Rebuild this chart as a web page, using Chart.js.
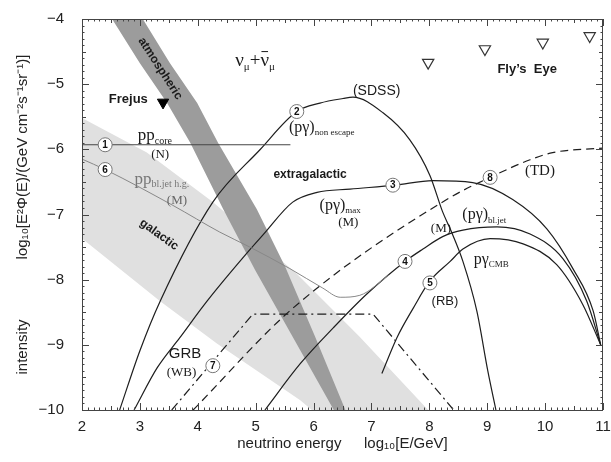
<!DOCTYPE html>
<html>
<head>
<meta charset="utf-8">
<script src="https://cdn.jsdelivr.net/npm/chart.js@4.4.1/dist/chart.umd.min.js"></script>
<style>
    html, body { margin: 0; padding: 0; background: #fff; }
    #grafico { display: block; }
</style>
</head>
<body>
<canvas id="grafico" width="611" height="462"></canvas>
<script>
// Datos (x = log10 E/GeV, y = log10 intensidad)

// banda galactica: borde superior e inferior
const galSupX = [2.0, 3.12, 4.26, 5.71, 6.80, 7.98];
const galSupY = [-5.52, -6.05, -6.81, -7.91, -8.88, -10.0];
const galInfX = [2.0, 3.35, 4.33, 5.77, 5.97];
const galInfY = [-7.37, -8.33, -8.98, -9.85, -10.0];

// banda atmosferica: borde izquierdo y derecho
const atmIzqX = [2.52, 3.00, 3.47, 3.87, 4.44, 4.99, 5.68, 6.35];
const atmIzqY = [-4.0, -4.68, -5.29, -5.90, -6.92, -7.85, -8.94, -10.0];
const atmDerX = [3.05, 3.52, 3.99, 4.35, 5.02, 5.51, 6.02, 6.55];
const atmDerY = [-4.0, -4.68, -5.29, -5.90, -6.92, -7.80, -8.86, -10.0];

// 1: pp core (N)
const ppCoreX = [2.0, 5.6];
const ppCoreY = [-5.93, -5.93];

// 6: pp jet h.g. (M)
const ppJetX = [2.0, 2.40, 3.57, 4.38, 4.90, 5.59, 6.16, 6.46, 6.80, 7.30];
const ppJetY = [-6.15, -6.31, -6.86, -7.27, -7.50, -7.83, -8.13, -8.27, -8.24, -7.93];

// 2: (p gamma) non escape (SDSS)
const noEscX = [2.65, 3.0, 3.35, 4.26, 5.07, 5.71, 6.11, 6.51, 6.68, 7.20, 7.66, 8.01, 8.23, 8.36, 8.58, 8.82, 9.01, 9.15];
const noEscY = [-10.0, -9.09, -8.33, -6.81, -6.01, -5.42, -5.29, -5.22, -5.20, -5.44, -5.85, -6.40, -6.96, -7.22, -7.72, -8.48, -9.40, -10.0];

// 3: (p gamma) max (M)
const maxX = [2.90, 3.30, 3.69, 4.16, 4.90, 5.13, 5.64, 6.06, 6.63, 7.41, 8.06, 8.75, 9.44, 10.03, 10.48, 10.83, 10.96];
const maxY = [-10.0, -9.35, -8.89, -8.33, -7.54, -7.31, -6.81, -6.66, -6.61, -6.55, -6.48, -6.51, -6.77, -7.22, -7.83, -8.48, -9.0];

// 4: (p gamma) bl.jet (M)
const blJetX = [5.16, 5.77, 6.34, 6.92, 7.58, 7.89, 8.23, 8.58, 9.17, 9.74, 10.31, 10.72, 10.96];
const blJetY = [-10.0, -9.29, -8.74, -8.22, -7.72, -7.53, -7.34, -7.24, -7.19, -7.30, -7.68, -8.33, -9.0];

// 5: p gamma CMB (RB)
const cmbX = [7.18, 7.44, 7.72, 8.01, 8.36, 8.58, 9.05, 9.62, 10.20, 10.65, 10.96];
const cmbY = [-9.44, -8.89, -8.44, -8.02, -7.72, -7.53, -7.37, -7.45, -7.77, -8.38, -9.0];

// 8: TD (discontinua)
const tdX = [3.92, 5.64, 8.30, 9.05, 9.74, 10.13, 11.0];
const tdY = [-10.0, -8.44, -6.77, -6.43, -6.16, -6.05, -5.98];

// 7: GRB (WB) (punto y raya)
const grbX = [3.55, 4.95, 7.03, 8.42];
const grbY = [-10.0, -8.53, -8.53, -10.0];

// limites experimentales
const frejusX = [3.40];
const frejusY = [-5.28];
const flyEyeX = [7.98, 8.96, 9.96, 10.77];
const flyEyeY = [-4.67, -4.46, -4.36, -4.26];

// marcas del eje
const ejeX = [2, 11];
const ejeY = [-10, -4];

const SANS = '"Liberation Sans", Arial, sans-serif';
const SERIF = '"Liberation Serif", "Times New Roman", serif';

// etiquetas de texto
const etiquetas = [
    { x: 4.99, y: -4.64, partes: [['ν'], ['μ', 'sub'], ['+'], ['ν', 'barra'], ['μ', 'sub']], tam: 19, familia: SERIF },
    { x: 3.35, y: -4.76, partes: [['atmospheric']], tam: 12, peso: 'bold', familia: SANS, giro: 57 },
    { x: 2.80, y: -5.23, partes: [['Frejus']], tam: 13, peso: 'bold', familia: SANS },
    { x: 3.26, y: -5.79, partes: [['pp'], ['core', 'sub']], tam: 17, familia: SERIF },
    { x: 3.35, y: -6.08, partes: [['(N)']], tam: 13, familia: SERIF },
    { x: 3.38, y: -6.46, partes: [['pp'], ['bl.jet h.g.', 'sub']], tam: 17, familia: SERIF, color: '#777' },
    { x: 3.64, y: -6.78, partes: [['(M)']], tam: 13, familia: SERIF, color: '#666' },
    { x: 3.33, y: -7.31, partes: [['galactic']], tam: 12, peso: 'bold', familia: SANS, giro: 36 },
    { x: 5.94, y: -6.39, partes: [['extragalactic']], tam: 12, peso: 'bold', familia: SANS },
    { x: 6.14, y: -5.67, partes: [['(pγ)'], ['non escape', 'sub']], tam: 16, familia: SERIF },
    { x: 7.09, y: -5.11, partes: [['(SDSS)']], tam: 14, familia: SANS },
    { x: 6.46, y: -6.86, partes: [['(pγ)'], ['max', 'sub']], tam: 16, familia: SERIF },
    { x: 6.60, y: -7.12, partes: [['(M)']], tam: 13, familia: SERIF },
    { x: 9.91, y: -6.33, partes: [['(TD)']], tam: 15, familia: SERIF },
    { x: 8.95, y: -7.01, partes: [['(pγ)'], ['bl.jet', 'sub']], tam: 16, familia: SERIF },
    { x: 8.20, y: -7.22, partes: [['(M)']], tam: 13, familia: SERIF },
    { x: 9.07, y: -7.69, partes: [['pγ'], ['CMB', 'sub']], tam: 16, familia: SERIF },
    { x: 8.27, y: -8.33, partes: [['(RB)']], tam: 13, familia: SANS },
    { x: 3.78, y: -9.14, partes: [['GRB']], tam: 15, familia: SANS },
    { x: 3.72, y: -9.43, partes: [['(WB)']], tam: 13, familia: SERIF },
    { x: 9.69, y: -4.78, partes: [['Fly\u2019s  Eye']], tam: 13, peso: 'bold', familia: SANS }
];

// numeros en circulo sobre las curvas
const circulos = [
    { n: '1', x: 2.40, y: -5.93 }, { n: '6', x: 2.40, y: -6.31 },
    { n: '2', x: 5.71, y: -5.42 }, { n: '3', x: 7.37, y: -6.55 },
    { n: '4', x: 7.58, y: -7.72 }, { n: '5', x: 8.01, y: -8.05 },
    { n: '8', x: 9.05, y: -6.43 }, { n: '7', x: 4.26, y: -9.32 }
];

const juntar = (xs, ys) => xs.map((x, i) => ({ x, y: ys[i] }));

// poligono cerrado: un borde de ida y el otro de vuelta
const poligono = (xa, ya, xb, yb) => juntar(xa, ya).concat(juntar(xb, yb).reverse());

function curva(xs, ys, extra) {
    return Object.assign({
        data: juntar(xs, ys),
        showLine: true,
        pointRadius: 0,
        borderColor: '#1e1e1e',
        borderWidth: 1.2,
        cubicInterpolationMode: 'monotone',
        fill: false,
        order: 1
    }, extra || {});
}

function textoRico(ctx, px, py, e) {
    const peso = e.peso || 'normal';
    const fPrin = `${peso} ${e.tam}px ${e.familia}`;
    const fSub = `${peso} ${Math.round(e.tam * 0.58)}px ${e.familia}`;
    let ancho = 0;
    e.partes.forEach(([t, tipo]) => {
        ctx.font = tipo === 'sub' ? fSub : fPrin;
        ancho += ctx.measureText(t).width;
    });
    ctx.save();
    ctx.translate(px, py);
    if (e.giro) ctx.rotate(e.giro * Math.PI / 180);
    ctx.fillStyle = e.color || '#1a1a1a';
    ctx.strokeStyle = e.color || '#1a1a1a';
    ctx.textAlign = 'left';
    ctx.textBaseline = 'middle';
    let cx = -ancho / 2;
    e.partes.forEach(([t, tipo]) => {
        ctx.font = tipo === 'sub' ? fSub : fPrin;
        const w = ctx.measureText(t).width;
        ctx.fillText(t, cx, tipo === 'sub' ? e.tam * 0.32 : 0);
        if (tipo === 'barra') {
            ctx.lineWidth = 1;
            ctx.beginPath();
            ctx.moveTo(cx + 1, -e.tam * 0.48);
            ctx.lineTo(cx + w - 1, -e.tam * 0.48);
            ctx.stroke();
        }
        cx += w;
    });
    ctx.restore();
}

// marco con marcas hacia dentro, en los cuatro lados
const marcoEjes = {
    id: 'marcoEjes',
    afterDatasetsDraw(chart) {
        const { ctx, chartArea: a, scales: { x, y } } = chart;
        ctx.save();
        ctx.strokeStyle = '#444';
        ctx.lineWidth = 1;
        ctx.strokeRect(a.left + 0.5, a.top + 0.5, a.right - a.left - 1, a.bottom - a.top);
        ctx.beginPath();
        const pasosX = Math.round((x.max - x.min) * 10);
        for (let i = 0; i <= pasosX; i++) {
            const px = Math.round(x.getPixelForValue(x.min + i / 10)) + 0.5;
            const largo = i % 10 === 0 ? 7 : (i % 5 === 0 ? 4 : 2.5);
            ctx.moveTo(px, a.bottom); ctx.lineTo(px, a.bottom - largo);
            ctx.moveTo(px, a.top); ctx.lineTo(px, a.top + largo);
        }
        const pasosY = Math.round((y.max - y.min) * 10);
        for (let i = 0; i <= pasosY; i++) {
            const py = Math.round(y.getPixelForValue(y.min + i / 10)) + 0.5;
            const largo = i % 10 === 0 ? 7 : (i % 5 === 0 ? 4 : 2.5);
            ctx.moveTo(a.left, py); ctx.lineTo(a.left + largo, py);
            ctx.moveTo(a.right, py); ctx.lineTo(a.right - largo, py);
        }
        ctx.stroke();
        ctx.restore();
    },
    afterDraw(chart) {
        const { ctx, scales: { x, y } } = chart;
        etiquetas.forEach(e => textoRico(ctx, x.getPixelForValue(e.x), y.getPixelForValue(e.y), e));
        circulos.forEach(c => {
            const px = x.getPixelForValue(c.x);
            const py = y.getPixelForValue(c.y);
            ctx.save();
            ctx.beginPath();
            ctx.arc(px, py, 7, 0, Math.PI * 2);
            ctx.fillStyle = '#fff';
            ctx.fill();
            ctx.strokeStyle = '#777';
            ctx.lineWidth = 1;
            ctx.stroke();
            ctx.fillStyle = '#111';
            ctx.font = `bold 10px ${SANS}`;
            ctx.textAlign = 'center';
            ctx.textBaseline = 'middle';
            ctx.fillText(c.n, px, py + 0.5);
            ctx.restore();
        });
    }
};

const ctx = document.getElementById('grafico').getContext('2d');
new Chart(ctx, {
    type: 'scatter',
    data: {
        datasets: [
            { data: poligono(galSupX, galSupY, galInfX, galInfY), showLine: true, pointRadius: 0,
              borderWidth: 0, backgroundColor: '#e0e0e0', fill: 'shape', tension: 0, order: 10 },
            { data: poligono(atmIzqX, atmIzqY, atmDerX, atmDerY), showLine: true, pointRadius: 0,
              borderWidth: 0, backgroundColor: '#9c9c9c', fill: 'shape', tension: 0, order: 9 },
            curva(ppCoreX, ppCoreY, { borderColor: '#444', cubicInterpolationMode: 'default', tension: 0 }),
            curva(ppJetX, ppJetY, { borderColor: '#888', borderWidth: 1 }),
            curva(noEscX, noEscY),
            curva(maxX, maxY),
            curva(blJetX, blJetY),
            curva(cmbX, cmbY),
            curva(tdX, tdY, { borderDash: [8, 5] }),
            curva(grbX, grbY, { borderDash: [9, 4, 2, 4], cubicInterpolationMode: 'default', tension: 0 }),
            { data: juntar(frejusX, frejusY), pointStyle: 'triangle', rotation: 180, pointRadius: 6.5,
              backgroundColor: '#000', borderColor: '#000', borderWidth: 1, order: 0 },
            { data: juntar(flyEyeX, flyEyeY), pointStyle: 'triangle', rotation: 180, pointRadius: 6.5,
              backgroundColor: '#fff', borderColor: '#333', borderWidth: 1.2, order: 0 }
        ]
    },
    options: {
        responsive: false,
        animation: false,
        devicePixelRatio: 1,
        events: [],
        layout: { padding: { top: 15, right: 8, left: 0, bottom: 0 } },
        plugins: { legend: { display: false }, tooltip: { enabled: false } },
        scales: {
            x: {
                type: 'linear', min: ejeX[0], max: ejeX[1],
                grid: { display: false }, border: { display: false },
                ticks: { stepSize: 1, padding: 0, color: '#222', font: { size: 15, family: SANS } },
                title: { display: true, text: 'neutrino energy\u2003\u2002log\u2081\u2080[E/GeV]', color: '#222',
                         font: { size: 15, family: SANS }, padding: { top: 0, bottom: 9 } },
                afterFit(s) { s.height = 52; }
            },
            y: {
                type: 'linear', min: ejeY[0], max: ejeY[1],
                grid: { display: false }, border: { display: false },
                ticks: { stepSize: 1, padding: 10, color: '#222', font: { size: 15, family: SANS },
                         callback: v => (v < 0 ? '\u2212' + Math.abs(v) : String(v)) },
                title: { display: true,
                         text: 'intensity\u2003\u2003\u2003\u2003log\u2081\u2080[E\u00b2\u03a6(E)/(GeV cm\u207b\u00b2s\u207b\u00b9sr\u207b\u00b9)]',
                         color: '#222', font: { size: 15, family: SANS }, padding: { top: 14, bottom: 0 } },
                afterFit(s) { s.width = 82; }
            }
        }
    },
    plugins: [marcoEjes]
});
</script>
</body>
</html>
